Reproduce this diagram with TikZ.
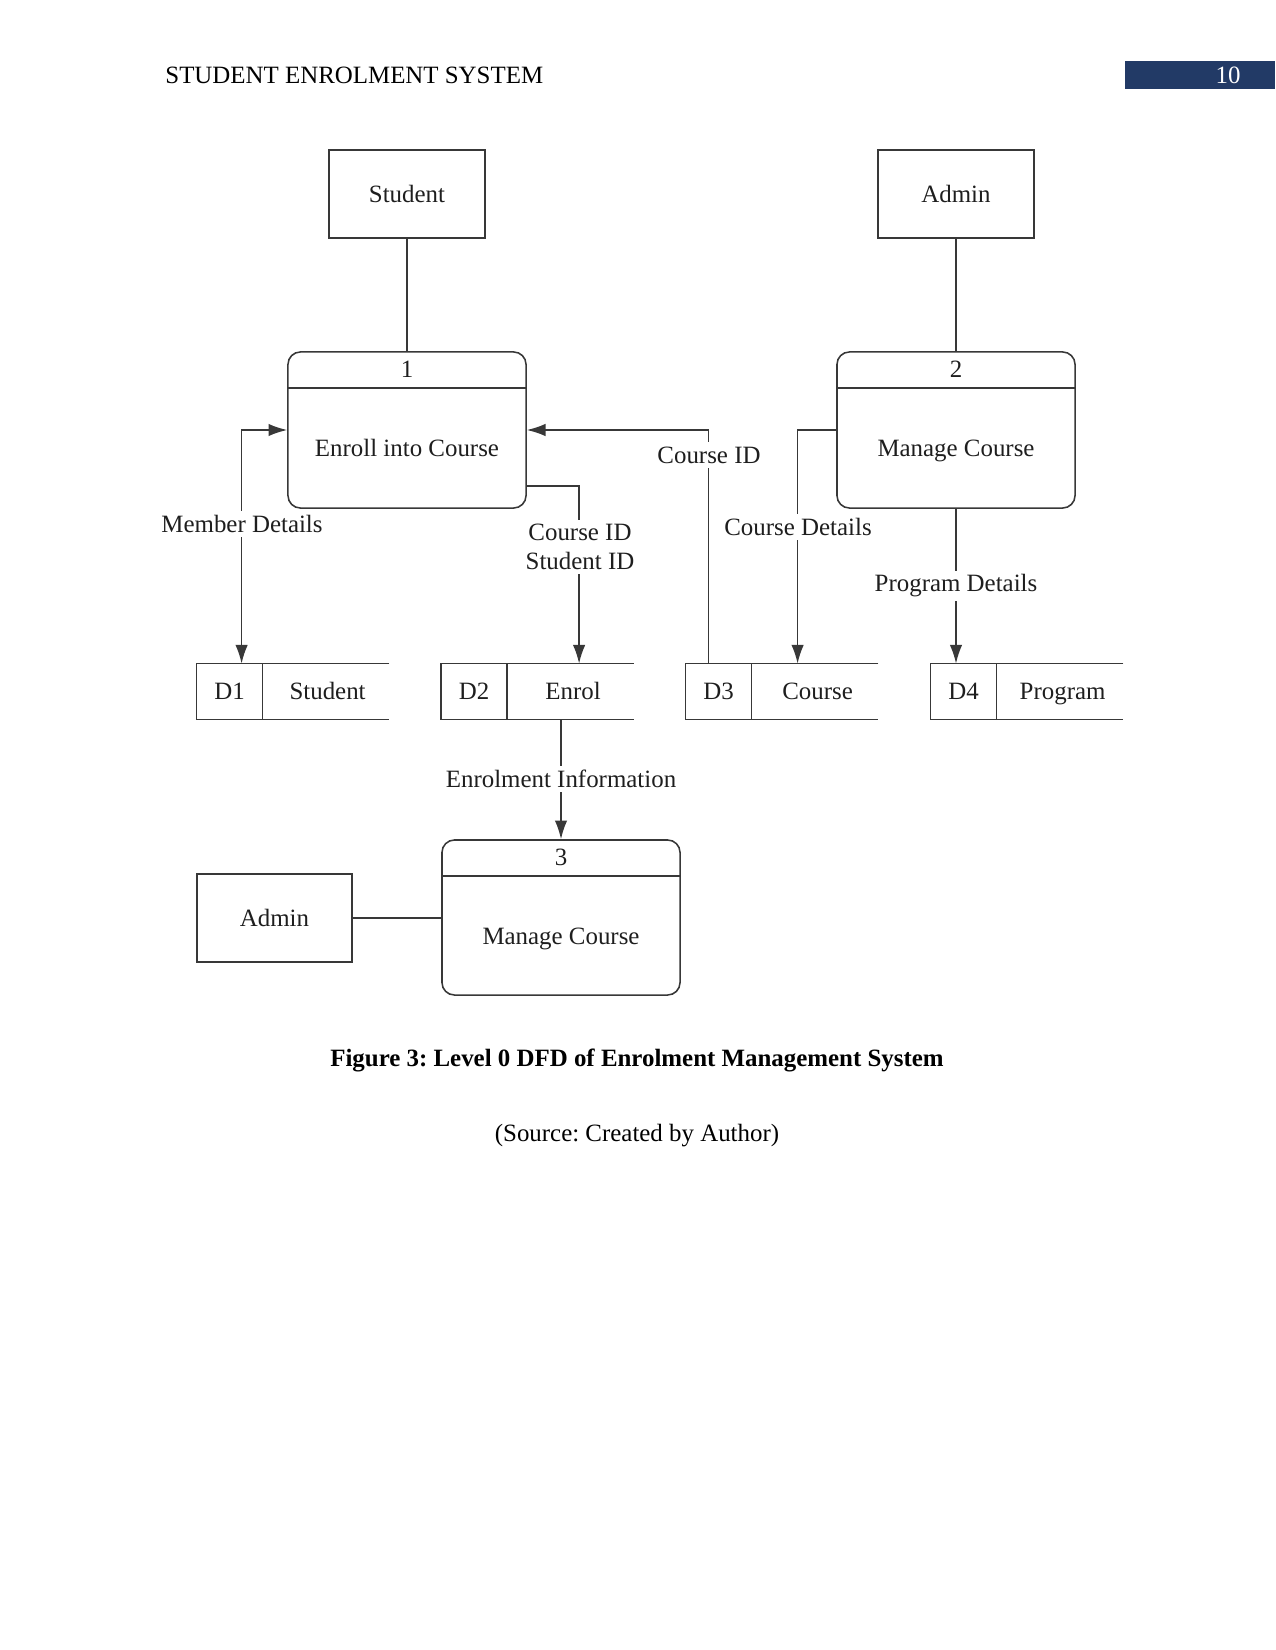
\documentclass[tikz,border=0pt]{standalone}
\usepackage{fontspec}
\setmainfont{Liberation Serif}
\usepackage{tikz}
\usetikzlibrary{arrows.meta, positioning, calc}
\definecolor{linegray}{HTML}{383838}
\definecolor{textgray}{HTML}{1E1E1E}
\definecolor{hdrblue}{HTML}{223A66}
\frenchspacing

\begin{document}
\begin{tikzpicture}[x=0.4818pt, y=-0.4818pt, >={Latex[length=9pt, width=6pt]},
            base/.style={text=textgray, font=\fontsize{12}{14}\selectfont},
            ent/.style={base, rectangle, draw=linegray, line width=0.75pt, minimum width=75.2pt, minimum height=42.4pt, inner sep=0pt},
            proc/.style={rectangle, rounded corners=6pt, draw=linegray, line width=0.75pt, minimum width=114.7pt, minimum height=75.2pt, inner sep=0pt},
            store/.style={rectangle, minimum width=92.5pt, minimum height=26.5pt, inner sep=0pt},
            txt/.style={base, inner sep=1pt, text height=8.4pt, text depth=0.5pt},
            lbl/.style={base, fill=white, align=center, inner xsep=2pt, inner ysep=2pt},
            link/.style={draw=linegray, line width=0.75pt},
            flow/.style={link, ->}]
            \useasboundingbox (0,0) rectangle (1275,1650);
            % page header
            \node[anchor=west, inner sep=0pt, font=\fontsize{12}{14}\selectfont] (hdr) at (165,75) {STUDENT ENROLMENT SYSTEM};
            \fill[hdrblue] (1125,61) rectangle (1275,89);
            \node[white, inner sep=0pt, font=\fontsize{12}{14}\selectfont] (pgno) at (1228,75) {10};
            % external entities
            \node[ent] (student) at (407,194) {Student};
            \node[ent] (admina) at (956,194) {Admin};
            \node[ent, minimum width=74.7pt] (adminb) at (274.5,918) {Admin};
            % processes
            \node[proc] (p1) at (407,430) {};
            \node[proc] (p2) at (956,430) {};
            \node[proc, minimum height=74.7pt] (p3) at (561,917.5) {};
            \draw[link] ($(p1.north west)+(0,37)$) -- ($(p1.north east)+(0,37)$);
            \draw[link] ($(p2.north west)+(0,37)$) -- ($(p2.north east)+(0,37)$);
            \draw[link] ($(p3.north west)+(0,37)$) -- ($(p3.north east)+(0,37)$);
            \node[txt] (p1num) at ($(p1.north)+(0,18)$) {1};
            \node[txt] (p2num) at ($(p2.north)+(0,18)$) {2};
            \node[txt] (p3num) at ($(p3.north)+(0,18)$) {3};
            \node[txt] (p1name) at ($(p1)+(0,18)$) {Enroll into Course};
            \node[txt] (p2name) at ($(p2)+(0,18)$) {Manage Course};
            \node[txt] (p3name) at ($(p3)+(0,18.5)$) {Manage Course};
            % data stores
            \node[store] (d1) at (293,691.5) {};
            \node[store] (d2) at (537.5,691.5) {};
            \node[store] (d3) at (782,691.5) {};
            \node[store] (d4) at (1027,691.5) {};
            \foreach \s in {d1,d2,d3,d4} {
                \draw[link] (\s.north east) -- (\s.north west) -- (\s.south west) -- (\s.south east);
                \draw[link] ($(\s.north west)+(66,0)$) -- ($(\s.south west)+(66,0)$);
            }
            \node[txt] (d1id) at ($(d1.west)+(33,0)$) {D1};
            \node[txt] (d2id) at ($(d2.west)+(33,0)$) {D2};
            \node[txt] (d3id) at ($(d3.west)+(33,0)$) {D3};
            \node[txt] (d4id) at ($(d4.west)+(33,0)$) {D4};
            \node[txt] (d1name) at ($(d1.west)+(131,0)$) {Student};
            \node[txt] (d2name) at ($(d2.west)+(132,0)$) {Enrol};
            \node[txt] (d3name) at ($(d3.west)+(132,0)$) {Course};
            \node[txt] (d4name) at ($(d4.west)+(132,0)$) {Program};
            % data flows
            \draw[link] (student) -- (p1);
            \draw[link] (admina) -- (p2);
            \draw[link, <->] (p1.west) -| ($(d1.north west)+(45,0)$);
            \draw[flow] ($(p1.south east)+(0,-23)$) -| ($(d2.north west)+(138,0)$);
            \draw[flow] ($(d3.north west)+(23,0)$) |- (p1.east);
            \draw[flow] (p2.west) -| ($(d3.north west)+(112,0)$);
            \draw[flow] (p2.south) -- (p2.south |- d4.north);
            \draw[flow] (p3.north |- d2.south) -- (p3.north);
            \draw[link] (adminb) -- (adminb -| p3.west);
            % flow labels
            \node[lbl] (memdet) at (242,524) {Member Details};
            \node[lbl] (cidsid) at (580,547) {Course ID\\Student ID};
            \node[lbl] (cid) at (709,455) {Course ID};
            \node[lbl] (crsdet) at (798,527) {Course Details};
            \node[lbl] (prgdet) at (956,586) {Program Details};
            \node[lbl] (enrinfo) at (561,779) {Enrolment Information};
            % caption
            \node[font=\fontsize{12}{14}\selectfont\bfseries] (cap) at (637,1060) {Figure 3: Level 0 DFD of Enrolment Management System};
            \node[font=\fontsize{12}{14}\selectfont] (src) at (637,1136) {(Source: Created by Author)};
        \end{tikzpicture}
\end{document}
